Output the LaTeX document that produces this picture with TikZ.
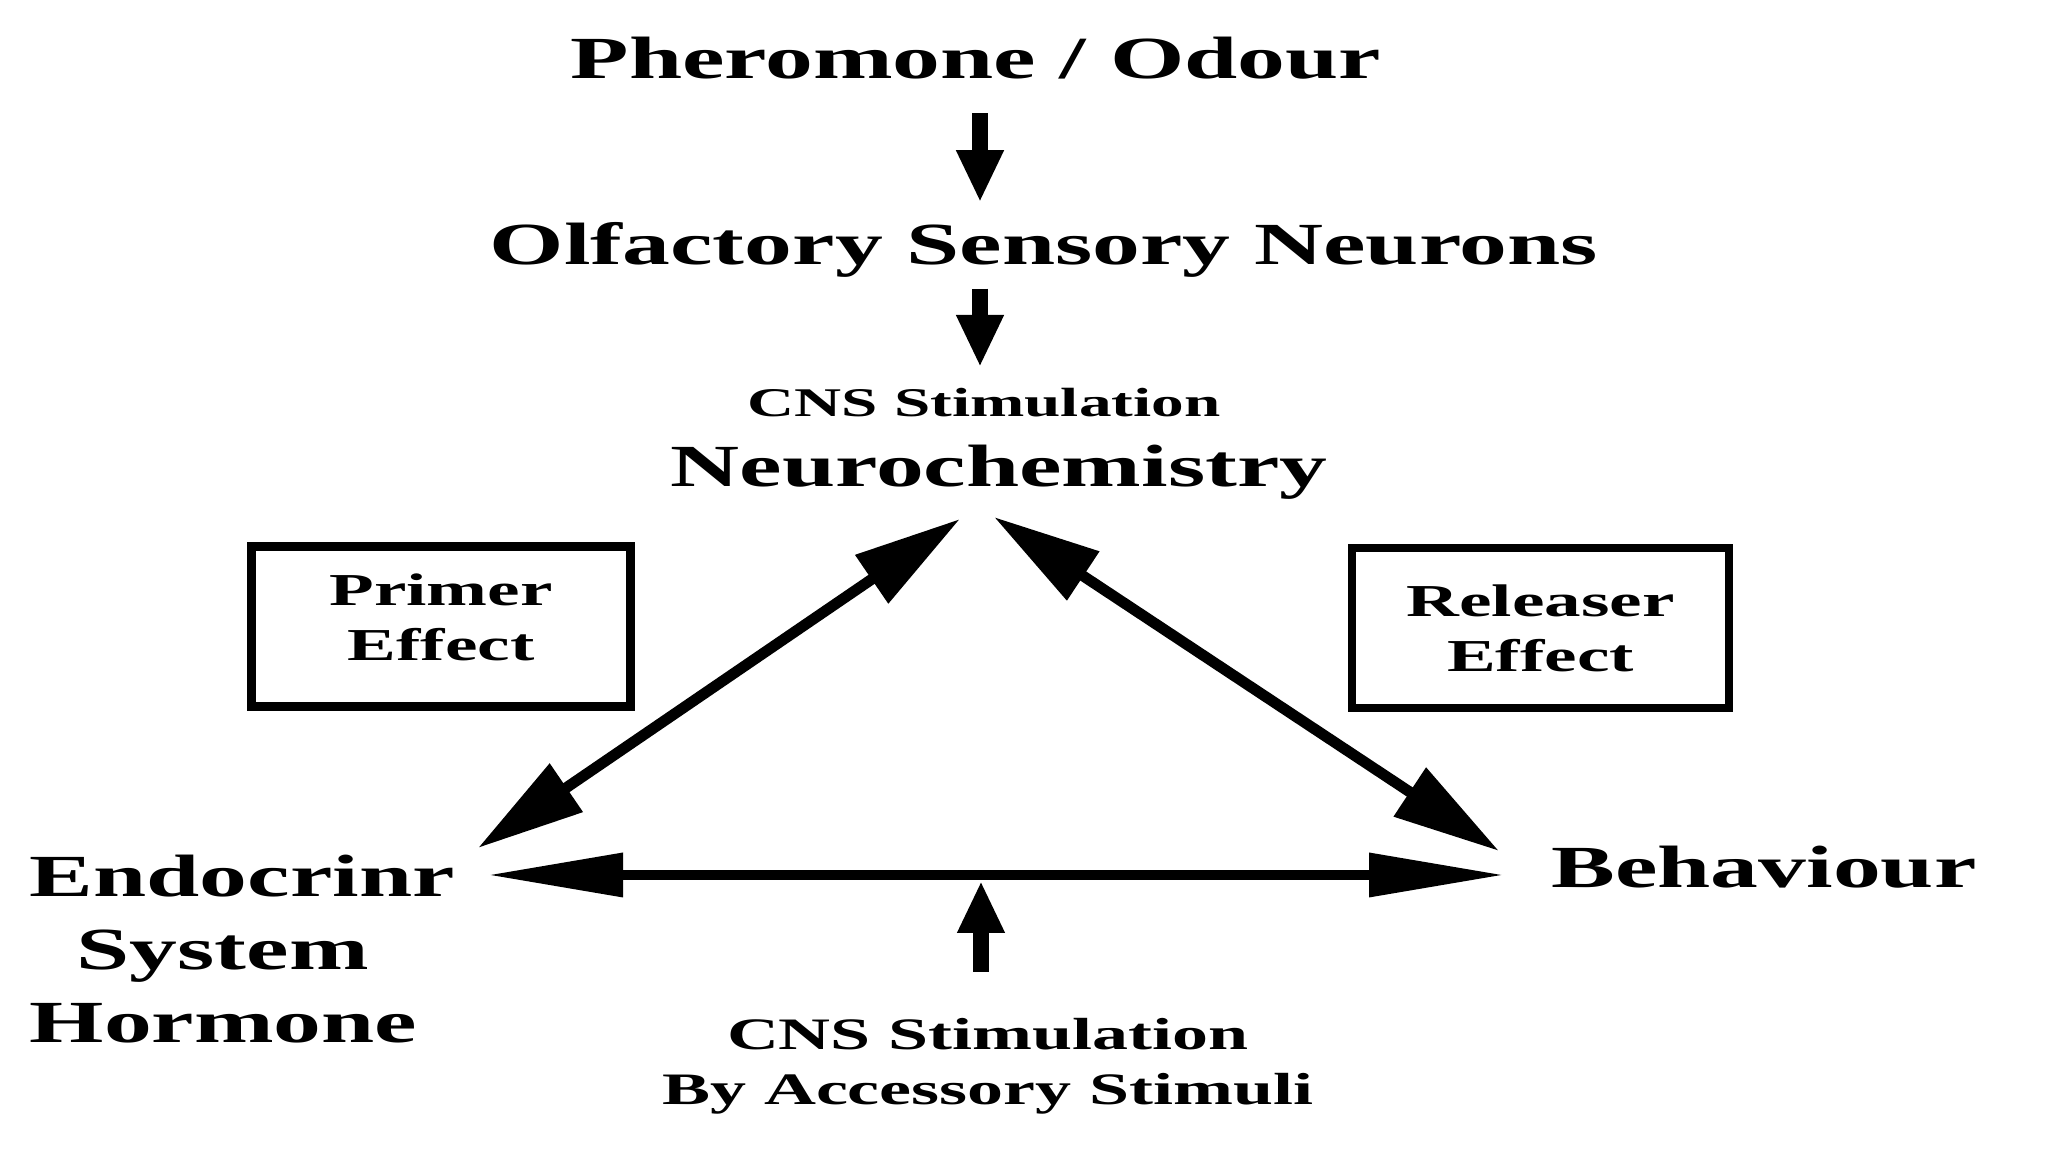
\documentclass[tikz,border=0pt]{standalone}
\usepackage{fontspec}
\usepackage{tikz}
\usetikzlibrary{arrows.meta,positioning}
\newfontfamily\widefont{Liberation Serif}[FakeStretch=1.6]
\tikzset{
  bigtext/.style={font=\widefont\bfseries\fontsize{17}{20.8}\selectfont,
                  inner sep=0pt,align=center},
  captext/.style={font=\widefont\bfseries\fontsize{11.6}{14}\selectfont,
                  inner sep=0pt},
  notetext/.style={font=\widefont\bfseries\fontsize{12.8}{15.6}\selectfont,
                   inner sep=0pt,align=center},
  effectbox/.style={draw=black,line width=2.3pt,
                    minimum width=3.79cm,minimum height=1.60cm,
                    align=center,inner sep=0pt,
                    font=\widefont\bfseries\fontsize{13}{15.6}\selectfont},
  downarr/.style={-{Triangle[length=5.2mm,width=4.4mm]},line width=4.5pt},
  diagarr/.style={{Triangle[length=10.7mm,width=5.6mm]}-{Triangle[length=10.7mm,width=5.6mm]},
                  line width=3.1pt},
  sidearr/.style={{Triangle[length=13.5mm,width=4.2mm]}-{Triangle[length=13.5mm,width=4.2mm]},
                  line width=2.85pt}
}
\begin{document}
\begin{tikzpicture}
  \fill[white] (0,0) rectangle (20.48,11.52);
  \useasboundingbox (0,0) rectangle (20.48,11.52);

  % chain at the top
  \node[bigtext,anchor=base] (pher) at (9.76,10.73) {Pheromone / Odour};
  \node[bigtext,anchor=base] (olf) at (10.44,8.87) {Olfactory Sensory Neurons};
  \node[captext,anchor=base] (cnstop) at (9.84,7.35) {CNS Stimulation};
  \node[bigtext,anchor=base] (neuro) at (9.99,6.65) {Neurochemistry};

  \draw[downarr,shorten <=3.3mm,shorten >=2mm] ([xshift=0.4mm]pher.south) -- ([xshift=0.4mm]pher.south |- olf.north);
  \draw[downarr,shorten <=1mm,shorten >=2.1mm] ([xshift=-0.4mm]olf.south -| cnstop.north) -- ([xshift=-0.4mm]cnstop.north);

  % boxes
  \node[effectbox] (primer) at (4.41,5.255) {Primer\\Effect\rule[-0.18cm]{0pt}{0pt}};
  \node[effectbox,minimum width=3.77cm] (releaser) at (15.405,5.24) {Releaser\\Effect};

  % corners of the triangle
  \node[bigtext,anchor=north west,align=left] (endo) at (0.29,2.98)
    {Endocrinr\\\hspace*{0.47cm}System\\Hormone};
  \node[bigtext,anchor=base] (behav) at (17.64,2.64) {Behaviour};
  \node[notetext,anchor=north] (access) at (9.88,1.34) {CNS Stimulation\\By Accessory Stimuli};

  \coordinate (nL) at (9.60,6.33);
  \coordinate (nR) at (9.94,6.35);
  \coordinate (eC) at (4.78,3.04);
  \coordinate (bC) at (14.99,3.01);
  \coordinate (hL) at (4.88,2.77);
  \coordinate (hR) at (15.04,2.77);
  \coordinate (accIn) at (9.81,1.80);

  \draw[diagarr] (eC) -- (nL);
  \draw[diagarr] (nR) -- (bC);
  \draw[sidearr] (hL) -- (hR);
  \draw[downarr] (accIn) -- ([yshift=-0.6mm]hL -| accIn);
\end{tikzpicture}
\end{document}
